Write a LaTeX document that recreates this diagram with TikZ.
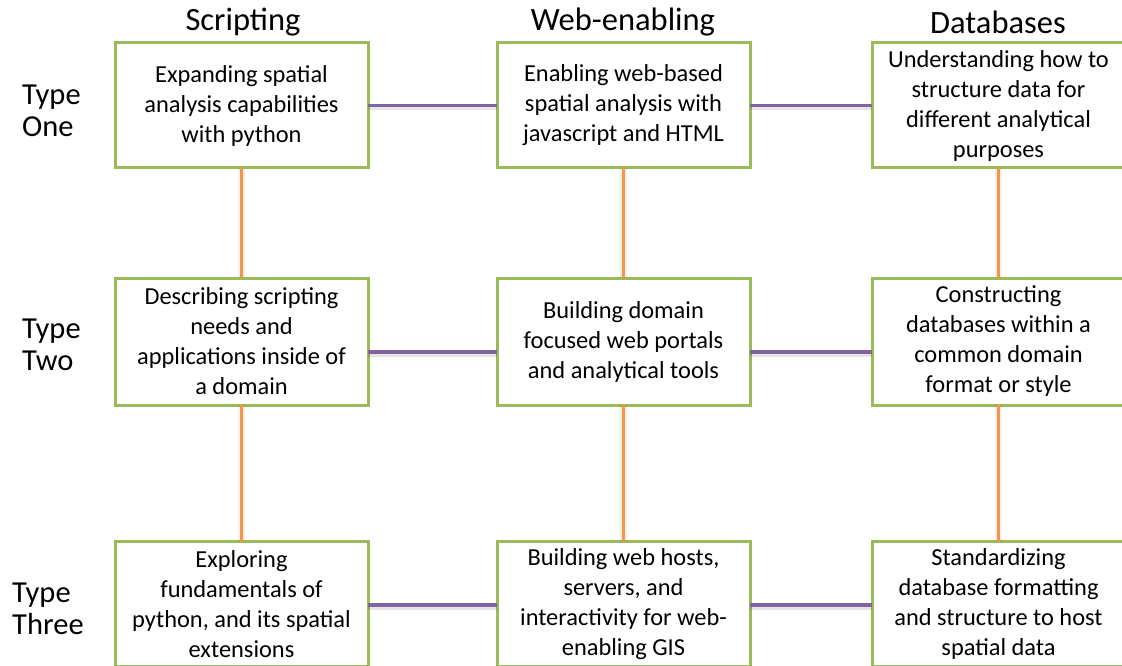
\documentclass[tikz,border=0pt]{standalone}
\usepackage{fontspec}
\setmainfont{Carlito}
\definecolor{boxgreen}{HTML}{9BBB59}
\definecolor{linkpurple}{HTML}{8064A2}
\definecolor{linkorange}{HTML}{F79646}
\tikzset{
  cell/.style={draw=boxgreen, line width=3pt, fill=white, minimum width=253pt,
    minimum height=125pt, align=center, inner sep=4pt,
    font=\fontsize{24.4}{30}\selectfont,
    execute at begin node={\vspace*{4pt}}},
  colhead/.style={font=\fontsize{32.5}{38}\selectfont, anchor=center},
  rowhead/.style={font=\fontsize{30.5}{31.5}\selectfont, align=left, anchor=west, inner sep=0pt},
  hlink/.style={draw=linkpurple, line width=3.5pt},
  vlink/.style={draw=linkorange, line width=3.5pt},
  hshade/.style={draw=black, opacity=0.10, line width=4pt},
  vshade/.style={draw=black, opacity=0.06, line width=7pt}
}
\begin{document}
\begin{tikzpicture}[x=1pt, y=-1pt]
\useasboundingbox (0,0) rectangle (1122,666);
\clip (0,0) rectangle (1122,666);
\fill[white] (0,0) rectangle (1122,666);

% column headings
\node[colhead] (hScript) at (243,22) {Scripting};
\node[colhead] (hWeb) at (623,22) {Web-enabling};
\node[colhead] (hDb) at (998,22) {Databases};

% row headings
\node[rowhead] (rOne) at (22,111) {Type\\One};
\node[rowhead] (rTwo) at (22,345) {Type\\Two};
\node[rowhead] (rThree) at (12,609) {Type\\Three};

% grid of topic boxes
\node[cell] (a1) at (241.5,105.5) {Expanding spatial\\analysis capabilities\\with python};
\node[cell] (b1) at (623.5,105.5) {Enabling web-based\\spatial analysis with\\javascript and HTML};
\node[cell] (c1) at (998.5,105.5) {Understanding how to\\structure data for\\different analytical\\purposes};

\node[cell, minimum height=127pt] (a2) at (241.5,341.5) {Describing scripting\\needs and\\applications inside of\\a domain};
\node[cell, minimum height=127pt] (b2) at (623.5,341.5) {Building domain\\focused web portals\\and analytical tools};
\node[cell, minimum height=127pt] (c2) at (998.5,341.5) {Constructing\\databases within a\\common domain\\format or style};

\node[cell] (a3) at (241.5,604) {Exploring\\fundamentals of\\python, and its spatial\\extensions};
\node[cell] (b3) at (623.5,604) {Building web hosts,\\servers, and\\interactivity for web-\\enabling GIS};
\node[cell] (c3) at (998.5,604) {Standardizing\\database formatting\\and structure to host\\spatial data};

% horizontal links, with a soft shadow below
\foreach \l/\r/\dy in {a1/b1/0, b1/c1/0, a2/b2/10.5, b2/c2/10.5, a3/b3/1, b3/c3/1}{
  \draw[hshade] ([xshift=-1.5pt,yshift=-\dy pt-3pt]\l.east) -- ([xshift=1.5pt,yshift=-\dy pt-3pt]\r.west);
  \draw[hlink] ([xshift=-1.5pt,yshift=-\dy pt]\l.east) -- ([xshift=1.5pt,yshift=-\dy pt]\r.west);
}
% vertical links, with a soft shadow
\foreach \t/\b in {a1/a2, a2/a3, b1/b2, b2/b3, c1/c2, c2/c3}{
  \draw[vshade] ([yshift=1.5pt]\t.south) -- ([yshift=-1.5pt]\b.north);
  \draw[vlink] ([yshift=1.5pt]\t.south) -- ([yshift=-1.5pt]\b.north);
}
\end{tikzpicture}
\end{document}
